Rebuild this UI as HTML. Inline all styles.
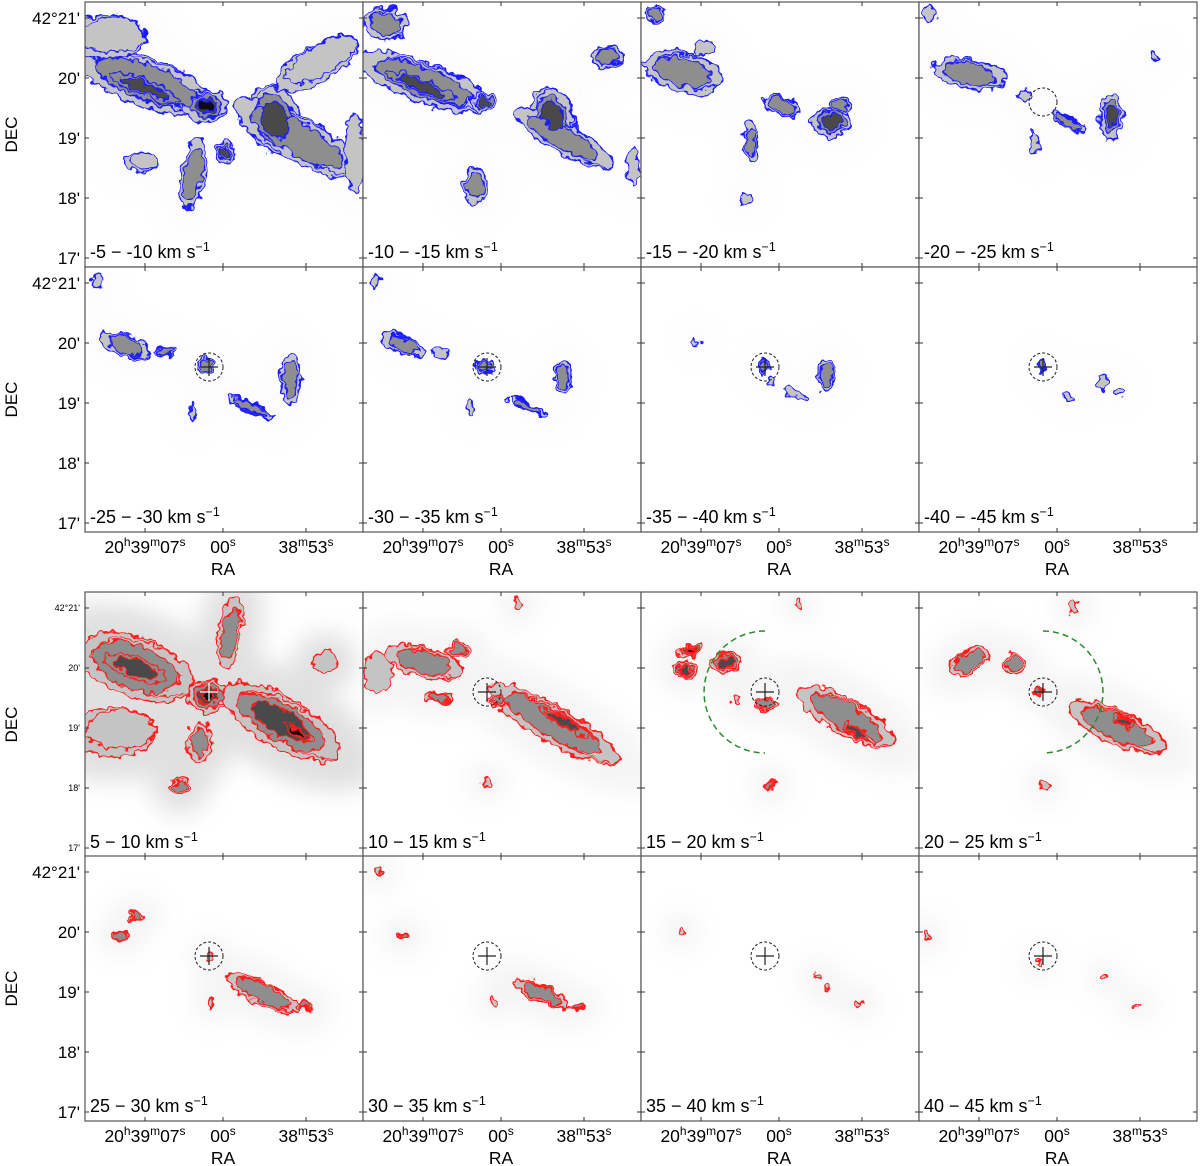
<!DOCTYPE html>
<html><head><meta charset="utf-8"><style>
html,body{margin:0;padding:0;background:#fff;}
svg{display:block;font-family:"Liberation Sans","DejaVu Sans",sans-serif;}
</style></head><body>
<svg id="chart" width="1200" height="1166" viewBox="0 0 1200 1166" xmlns="http://www.w3.org/2000/svg">
<defs>
<filter id="wig" x="-20%" y="-20%" width="140%" height="140%">
<feTurbulence type="fractalNoise" baseFrequency="0.11" numOctaves="2" seed="3" result="n"/>
<feDisplacementMap in="SourceGraphic" in2="n" scale="12" xChannelSelector="R" yChannelSelector="G"/>
</filter>
<filter id="haze" x="-50%" y="-50%" width="200%" height="200%"><feGaussianBlur stdDeviation="12"/></filter>
</defs>
<g id="root"></g>
</svg>
<script>
// channel data
const chanLo = [-5,-10,-15,-20,-25,-30,-35,-40, 5,10,15,20,25,30,35,40];
const chanHi = [-10,-15,-20,-25,-30,-35,-40,-45, 10,15,20,25,30,35,40,45];
const decTicks = ["42°21'","20'","19'","18'","17'"];
const raTicks = ["20h39m07s","00s","38m53s"];
const hasCircle = [0,0,0,1,1,1,1,1, 0,1,1,1,1,1,1,1];
const hasCross  = [0,0,0,0,1,1,1,1, 1,1,1,1,1,1,1,1];
// emission blobs per channel: [x, y, rx, ry, rotDeg, level]
const blobs = [
 [[60,80,72,24,20,1],[60,86,52,11,22,2],[22,35,38,22,0,0],[120,104,22,16,0,3],[190,118,26,36,-20,2],[212,136,72,22,30,1],[232,62,46,18,-30,0],[108,172,12,36,10,1],[140,150,10,12,0,2],[55,160,16,10,0,0],[270,150,10,40,0,0]],
 [[60,80,70,20,20,1],[58,84,50,9,22,2],[22,22,22,16,0,1],[190,114,20,30,-20,2],[245,55,16,11,0,1],[120,100,12,10,0,2],[112,183,12,18,0,1],[200,136,55,15,30,1],[270,165,6,20,0,0]],
 [[42,70,40,20,15,1],[15,12,10,8,0,1],[62,45,10,8,0,0],[140,104,20,9,20,1],[190,120,20,15,0,2],[200,103,9,9,0,1],[110,140,7,20,0,1],[105,196,6,5,0,0]],
 [[50,72,36,15,10,1],[10,12,6,8,0,0],[106,94,6,5,0,0],[150,120,20,6,30,1],[192,115,12,22,0,2],[115,140,4,12,0,0],[235,55,4,4,0,0]],
 [[40,78,26,11,20,1],[122,99,10,8,0,1],[165,140,25,5,25,1],[205,112,10,25,0,1],[80,85,10,5,0,1],[12,14,6,8,0,0],[108,145,3,10,0,0]],
 [[40,78,22,9,20,1],[122,100,9,7,0,1],[165,140,22,4,25,1],[200,110,8,18,0,1],[78,86,8,4,0,0],[12,14,5,7,0,0],[108,140,3,6,0,0]],
 [[55,75,4,3,0,0],[123,100,7,7,0,1],[185,108,8,16,0,1],[155,127,14,3,25,0],[130,115,3,3,0,0]],
 [[123,99,5,5,0,1],[185,116,6,6,0,0],[150,130,7,3,20,0],[200,124,4,3,0,0]],
 [[50,75,60,30,20,1],[50,76,46,15,18,2],[123,104,20,16,0,3],[196,130,66,25,30,2],[212,140,30,8,30,3],[145,40,12,35,10,1],[30,140,40,25,0,0],[115,150,12,20,0,1],[95,195,10,8,0,1],[240,70,12,10,0,0]],
 [[60,70,40,15,15,1],[95,58,12,8,0,1],[190,132,75,18,30,1],[200,130,40,6,30,2],[135,108,10,7,0,1],[15,80,14,20,0,0],[75,105,16,5,0,1],[124,190,4,4,0,0],[155,12,4,6,0,0]],
 [[50,58,13,6,-20,3],[44,78,11,8,0,2],[85,70,16,10,0,2],[205,125,55,18,30,1],[215,140,20,6,30,2],[124,112,12,6,0,1],[130,193,5,5,0,1],[158,12,3,5,0,0],[95,106,4,3,0,0]],
 [[50,70,22,11,-30,1],[95,72,11,10,0,1],[198,135,52,17,25,1],[205,130,15,6,25,2],[155,15,4,7,0,0],[120,98,6,5,0,1],[125,193,4,4,0,0]],
 [[36,80,8,4,0,1],[52,60,8,4,0,1],[178,137,40,11,25,1],[220,150,10,4,0,1],[125,100,4,4,0,0],[126,147,3,4,0,0]],
 [[40,80,6,4,0,1],[178,138,30,8,25,1],[215,150,8,3,0,1],[130,145,3,3,0,0],[16,15,3,4,0,0]],
 [[186,132,3,3,0,0],[218,147,4,3,0,0],[40,75,3,3,0,0],[175,120,3,2,0,0]],
 [[120,108,2,2,0,0],[186,122,3,2,0,0],[218,148,3,2,0,0],[8,80,2,4,0,0]]
];
const panelX = [85,363,641,919];
const panelY = [2,267,592,856];
const PW = 278, PH = 265;
const levelFill = ["#c4c4c4","#8e8e8e","#4a4a4a","#0a0a0a"];
const levelScale = [1,0.72,0.5,0.32];
const NS = "http://www.w3.org/2000/svg";
const root = document.getElementById('root');
function mk(tag, attrs, parent){const e=document.createElementNS(NS,tag);for(const k in attrs)e.setAttribute(k,attrs[k]);(parent||root).appendChild(e);return e;}

const defs = document.querySelector('defs');
for(let i=0;i<16;i++){
  const row=Math.floor(i/4), col=i%4;
  const cp=mk('clipPath',{id:'cp'+i},defs);
  mk('rect',{x:panelX[col],y:panelY[row],width:PW,height:PH},cp);
}

for(let i=0;i<16;i++){
  const row=Math.floor(i/4), col=i%4;
  const x0=panelX[col], y0=panelY[row];
  const red = i>=8;
  const col_ = red ? "#ff1a1a" : "#1a1aff";
  const g = mk('g',{'clip-path':'url(#cp'+i+')'});
  
  
  mk('rect',{x:x0,y:y0,width:PW,height:PH,fill:'#fff'},g);
  const hz = mk('g',{filter:'url(#haze)',opacity: red ? (i==8?0.45:0.15) : 0.04},g);
  blobs[i].forEach(b=>{
    mk('ellipse',{cx:x0+b[0],cy:y0+b[1],rx:b[2]*1.4+15,ry:b[3]*1.4+15,fill:'#bbb',transform:`rotate(${b[4]} ${x0+b[0]} ${y0+b[1]})`},hz);
  });
  const sg = mk('g',{filter:'url(#wig)'},g);
  
  
  [0,1,2,3].forEach(lv=>{
    blobs[i].filter(b=>b[5]>=lv).forEach(b=>{
      const s = levelScale[lv];
      const cx=x0+b[0], cy=y0+b[1];
      const e=mk('ellipse',{cx:cx,cy:cy,rx:Math.max(b[2]*s,1.5),ry:Math.max(b[3]*s,1.5),
        fill: levelFill[lv], stroke:col_,'stroke-width':1.4,
        transform:`rotate(${b[4]} ${cx} ${cy})`},sg);
      
      
      if(lv==0 && b[2]>15){
        const e2=mk('ellipse',{cx:cx+b[2]*0.15,cy:cy-b[3]*0.1,rx:b[2]*0.86,ry:b[3]*0.8,fill:'none',stroke:col_,'stroke-width':1.2,
          transform:`rotate(${b[4]} ${cx} ${cy})`},sg);
        
        
      }
    });
  });
  const cx=x0+124, cy=y0+100;
  if(hasCircle[i]){
    const c=mk('circle',{cx:cx,cy:cy,r:14,fill:'none',stroke:'#222','stroke-width':1,'stroke-dasharray':'3,2'},g);
    
    
  }
  if(hasCross[i]){
    const p=mk('path',{d:`M${cx-9},${cy}H${cx+9}M${cx},${cy-9}V${cy+9}`,stroke: i==8?'#fff':'#222','stroke-width':1.2},g);
    
    
  }
  if(i==10){
    const a=mk('path',{d:`M${cx},${cy-61} A61,61 0 0 0 ${cx},${cy+61}`,fill:'none',stroke:'#2a8a2a','stroke-width':1.5,'stroke-dasharray':'6,4'},g);
    
    
  }
  if(i==11){
    const a=mk('path',{d:`M${cx},${cy-61} A60,61 0 0 1 ${cx},${cy+61}`,fill:'none',stroke:'#2a8a2a','stroke-width':1.5,'stroke-dasharray':'6,4'},g);
    
    
  }
  const lo=chanLo[i], hi=chanHi[i];
  const t=mk('text',{x:x0+5,y:y0+256,'font-size':18,fill:'#000'});
  
  
  t.innerHTML = `${lo} − ${hi} km s<tspan dy="-7" font-size="12.5">−1</tspan>`;
  const bb=t.getBBox();
  mk('rect',{x:bb.x-3,y:bb.y-1,width:bb.width+6,height:bb.height+2,fill:'#fff',opacity:0.75},g);
  g.appendChild(t);
  const fr=mk('rect',{x:x0,y:y0,width:PW,height:PH,fill:'none',stroke:'#555','stroke-width':1.2});
  
  
  [60,138,221].forEach(tx=>{
    mk('path',{d:`M${x0+tx},${y0+PH}v-4M${x0+tx},${y0}v4`,stroke:'#333','stroke-width':1});
  });
  [16,76,136,196,256].forEach(ty=>{
    mk('path',{d:`M${x0},${y0+ty}h4M${x0+PW},${y0+ty}h-4`,stroke:'#333','stroke-width':1});
  });
  if(col==0){
    const small = (row==2);
    decTicks.forEach((s,k)=>{
      const ty=y0+16+60*k;
      const tt=mk('text',{x:x0-5,y:ty+(small?3:6),'text-anchor':'end','font-size':small?9:17});
      
      
      tt.textContent=s;
    });
    const d=mk('text',{x:0,y:0,'font-size':17,'text-anchor':'middle',transform:`translate(17 ${y0+PH/2}) rotate(-90)`});
    
    
    d.textContent='DEC';
  }
  if(row==1||row==3){
    const by=y0+PH+21;
    [[60,'20','h','39','m','07','s'],[138,'00','s'],[221,'38','m','53','s']].forEach((arr,k)=>{
      const tt=mk('text',{x:x0+arr[0],y:by,'text-anchor':'middle','font-size':17.5});
      
      
      let h='';
      for(let j=1;j<arr.length;j++){
        if(j%2==1) h+=`<tspan dy="${j==1?0:7}" font-size="17.5">${arr[j]}</tspan>`;
        else h+=`<tspan dy="-7" font-size="12">${arr[j]}</tspan>`;
      }
      tt.innerHTML=h;
    });
    const r=mk('text',{x:x0+138,y:y0+PH+43,'text-anchor':'middle','font-size':17.5});
    
    
    r.textContent='RA';
  }
}
</script>
</body></html>
